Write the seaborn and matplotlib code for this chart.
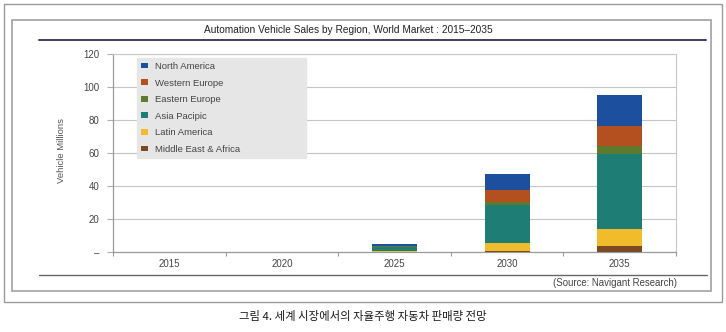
import matplotlib
matplotlib.use("Agg")
import matplotlib.pyplot as plt
from matplotlib.patches import Rectangle, Patch
from matplotlib.lines import Line2D
import numpy as np
import pandas as pd
import seaborn as sns

# ---- data ----
years = ["2015", "2020", "2025", "2030", "2035"]
north_america = [0, 0, 0.8, 9.9, 18.8]
western_europe = [0, 0, 0.4, 6.7, 12.2]
eastern_europe = [0, 0, 0.2, 2.0, 4.8]
asia_pacific = [0, 0, 2.9, 22.8, 45.7]
latin_america = [0, 0, 0.3, 4.9, 10.1]
middle_east_africa = [0, 0, 0.1, 0.8, 3.6]

regions = ["North America", "Western Europe", "Eastern Europe",
           "Asia Pacipic", "Latin America", "Middle East & Africa"]
series = [north_america, western_europe, eastern_europe,
          asia_pacific, latin_america, middle_east_africa]
colors = ["#1d4f9f", "#b4501f", "#5e7a2e", "#1e7e76", "#f0bc2c", "#7b4a23"]

y_ticks = [0, 20, 40, 60, 80, 100, 120]
y_ticklabels = ["\u2013", "20", "40", "60", "80", "100", "120"]

title = "Automation Vehicle Sales by Region, World Market : 2015\u20132035"
ylabel = "Vehicle Millions"
source = "(Source: Navigant Research)"
caption = "그림 4. 세계 시장에서의 자율주행 자동차 판매량 전망"

# ---- style ----
sns.set_style("white")
plt.rcParams["font.family"] = ["Liberation Sans", "DejaVu Sans"]

W, H = 726, 332
fig = plt.figure(figsize=(W / 100, H / 100), dpi=100)
fig.patch.set_facecolor("white")

def fx(px):
    return px / W

def fy(py):
    return 1 - py / H

# frames
fig.patches.append(Rectangle((fx(4), fy(302)), fx(718), (298) / H,
                             transform=fig.transFigure, fill=False,
                             edgecolor="#9a9a9a", lw=1.0))
fig.patches.append(Rectangle((fx(12), fy(291)), fx(699), (271) / H,
                             transform=fig.transFigure, fill=False,
                             edgecolor="#a8a8a8", lw=1.3))
# title line and source line
fig.add_artist(Line2D([fx(39), fx(706)], [fy(39.5), fy(39.5)],
                      transform=fig.transFigure, color="#3c3c66", lw=1.4))
fig.add_artist(Line2D([fx(39), fx(707)], [fy(274.7), fy(274.7)],
                      transform=fig.transFigure, color="#666666", lw=1.0))

fig.text(fx(348), fy(30), title, ha="center", va="center",
         fontsize=7.3, color="#222222")
fig.text(fx(677), fy(283), source, ha="right", va="center",
         fontsize=6.9, color="#444444")
fig.text(fx(363), fy(316.5), caption, ha="center", va="center",
         fontsize=8.2, color="#1a1a1a",
         family=["Noto Sans CJK KR", "DejaVu Sans"], fontweight="medium")
fig.text(fx(62), fy(150), ylabel, ha="center", va="center", rotation=90,
         fontsize=6.8, color="#555555")

# ---- axes ----
ax = fig.add_axes([fx(113), fy(252), (676 - 113) / W, (252 - 53.5) / H])

df = pd.DataFrame({"year": years})
cum = np.zeros(len(years))
cums = []
for s in reversed(series):
    cum = cum + np.array(s, dtype=float)
    cums.append(cum.copy())
cums = list(reversed(cums))  # cums[0] = total (top = North America)

for i, (reg, col) in enumerate(zip(regions, colors)):
    d = df.copy()
    d["value"] = cums[i]
    sns.barplot(data=d, x="year", y="value", color=col, width=0.4,
                saturation=1, errorbar=None, ax=ax, linewidth=0,
                zorder=2 + i)

ax.set_xlim(-0.5, len(years) - 0.5)
ax.set_ylim(0, 120)
ax.set_yticks(y_ticks)
ax.set_yticklabels(y_ticklabels)
ax.set_xlabel("")
ax.set_ylabel("")
ax.set_axisbelow(True)
ax.yaxis.grid(True, color="#c4c4c4", lw=0.8)
ax.xaxis.grid(False)

for side in ["top", "right"]:
    ax.spines[side].set_color("#c8c8c8")
    ax.spines[side].set_linewidth(0.8)
ax.spines["left"].set_color("#9a9a9a")
ax.spines["bottom"].set_color("#9a9a9a")
ax.spines["left"].set_linewidth(0.9)
ax.spines["bottom"].set_linewidth(0.9)

ax.tick_params(axis="y", length=4, width=0.8, color="#b0b0b0",
               labelsize=7.0, labelcolor="#444444", pad=6, direction="out", left=True)
ax.tick_params(axis="x", which="major", length=0, labelsize=7.0,
               labelcolor="#444444", pad=5)
ax.set_xticks(np.arange(-0.5, len(years) + 0.5, 1.0), minor=True)
ax.tick_params(axis="x", which="minor", length=3, width=0.8,
               color="#9a9a9a", direction="out", bottom=True)

handles = [Patch(facecolor=c, edgecolor="none") for c in colors]
leg = ax.legend(handles, regions, loc="upper left",
                bbox_to_anchor=((137 - 113) / 563, (252 - 155) / 198.5,
                                (306 - 137) / 563, (155 - 58) / 198.5),
                mode="expand", borderaxespad=0, fontsize=6.8,
                frameon=True, fancybox=False, framealpha=1,
                facecolor="#e6e6e6", edgecolor="#e6e6e6",
                handlelength=0.75, handleheight=0.55, handletextpad=0.7,
                labelspacing=0.8, borderpad=0.42)
for t in leg.get_texts():
    t.set_color("#444444")
leg.set_zorder(20)

fig.savefig("out.png", dpi=100)
